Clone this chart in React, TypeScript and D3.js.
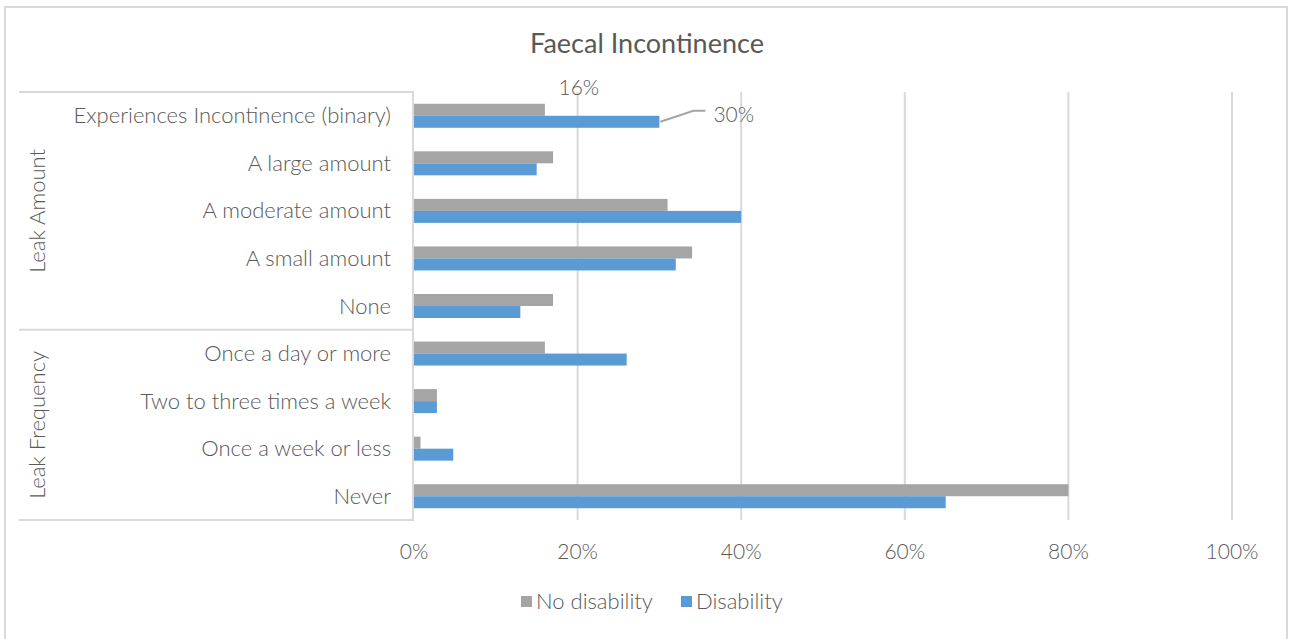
import React from "react";
import * as d3 from "d3";

const categories = [
  "Experiences Incontinence (binary)",
  "A large amount",
  "A moderate amount",
  "A small amount",
  "None",
  "Once a day or more",
  "Two to three times a week",
  "Once a week or less",
  "Never",
];
const noDisability = [0.16, 0.17, 0.31, 0.34, 0.17, 0.16, 0.028, 0.008, 0.80];
const disability = [0.30, 0.15, 0.40, 0.32, 0.13, 0.26, 0.028, 0.048, 0.65];
const groups = [
  { name: "Leak Amount", from: 0, to: 4 },
  { name: "Leak Frequency", from: 5, to: 8 },
];
const ticks = [0, 0.2, 0.4, 0.6, 0.8, 1.0];
const seriesNames = ["No disability", "Disability"];
const colors = ["#A5A5A5", "#5B9BD5"];

const W = 1290;
const H = 639;
const FONT = "Lato, 'Gill Sans', 'Noto Sans', sans-serif";
const TXT = "#595959";
const GRID = "#D9D9D9";

export default function App() {
  const x = d3.scaleLinear().domain([0, 1]).range([414, 1232]);
  const y = d3.scaleBand<string>().domain(categories).range([92, 520]).paddingInner(0).paddingOuter(0);
  const bw = y.bandwidth();
  const barH = 12;
  const yc = (c: string) => (y(c) as number) + bw / 2;
  const fmt = d3.format(".0%");
  const tableLeft = 19;

  const c0 = categories[0];
  const lblGray = { x: x(noDisability[0]) + 34, y: yc(c0) - 29 };
  const blueEnd = x(disability[0]);
  const lblBlue = { x: blueEnd + 54, y: yc(c0) - 2 };

  return (
    <svg width={W} height={H} style={{ position: "absolute", left: 0, top: 0, background: "#fff" }}
      fontFamily={FONT}>
      <rect x={5} y={7} width={1282} height={640} fill="#fff" stroke={GRID} strokeWidth={2} />
      <text x={647} y={42} textAnchor="middle" dominantBaseline="central" fontSize={27} fill={TXT} fontWeight={400}>
        Faecal Incontinence
      </text>

      {/* gridlines */}
      {ticks.slice(1).map((t) => (
        <line key={t} x1={x(t)} x2={x(t)} y1={92} y2={520} stroke={GRID} strokeWidth={2} />
      ))}

      {/* bars */}
      {categories.map((c, i) => (
        <g key={c}>
          <rect x={x(0)} y={yc(c) - barH} width={x(noDisability[i]) - x(0)} height={barH} fill={colors[0]} />
          <rect x={x(0)} y={yc(c)} width={x(disability[i]) - x(0)} height={barH} fill={colors[1]} />
        </g>
      ))}

      {/* axis line & category table */}
      <line x1={413} x2={413} y1={92} y2={521} stroke={GRID} strokeWidth={2} />
      {[92, y(categories[5]) as number, 520].map((yy, i) => (
        <line key={i} x1={tableLeft} x2={414} y1={yy} y2={yy} stroke={GRID} strokeWidth={2} />
      ))}
      {categories.map((c) => (
        <text key={c} x={391} y={yc(c) - 1} textAnchor="end" dominantBaseline="central" fontSize={22}
          fill={TXT} fontWeight={300}>
          {c}
        </text>
      ))}
      {groups.map((g) => {
        const top = y(categories[g.from]) as number;
        const bot = (y(categories[g.to]) as number) + bw;
        const cy = (top + bot) / 2;
        return (
          <text key={g.name} transform={`translate(36,${cy}) rotate(-90)`} textAnchor="middle"
            dominantBaseline="central" fontSize={22} fill={TXT} fontWeight={300}>
            {g.name}
          </text>
        );
      })}

      {/* x tick labels */}
      {ticks.map((t) => (
        <text key={t} x={x(t)} y={550} textAnchor="middle" dominantBaseline="central" fontSize={21}
          fill={TXT} fontWeight={300}>
          {fmt(t)}
        </text>
      ))}

      {/* data labels */}
      <text x={lblGray.x} y={lblGray.y} textAnchor="middle" dominantBaseline="central" fontSize={21}
        fill={TXT} fontWeight={300}>
        {fmt(noDisability[0])}
      </text>
      <polyline points={`${blueEnd + 1},${yc(c0) + 6} ${blueEnd + 34},${yc(c0) - 5} ${blueEnd + 46},${yc(c0) - 5}`}
        fill="none" stroke="#A5A5A5" strokeWidth={2} />
      <text x={lblBlue.x} y={lblBlue.y} textAnchor="start" dominantBaseline="central" fontSize={21}
        fill={TXT} fontWeight={300}>
        {fmt(disability[0])}
      </text>

      {/* legend */}
      {seriesNames.map((s, i) => {
        const lx = i === 0 ? 521 : 681;
        return (
          <g key={s}>
            <rect x={lx} y={596} width={11} height={11} fill={colors[i]} />
            <text x={lx + 15} y={600} dominantBaseline="central" fontSize={22} fill={TXT} fontWeight={300}>
              {s}
            </text>
          </g>
        );
      })}
    </svg>
  );
}
